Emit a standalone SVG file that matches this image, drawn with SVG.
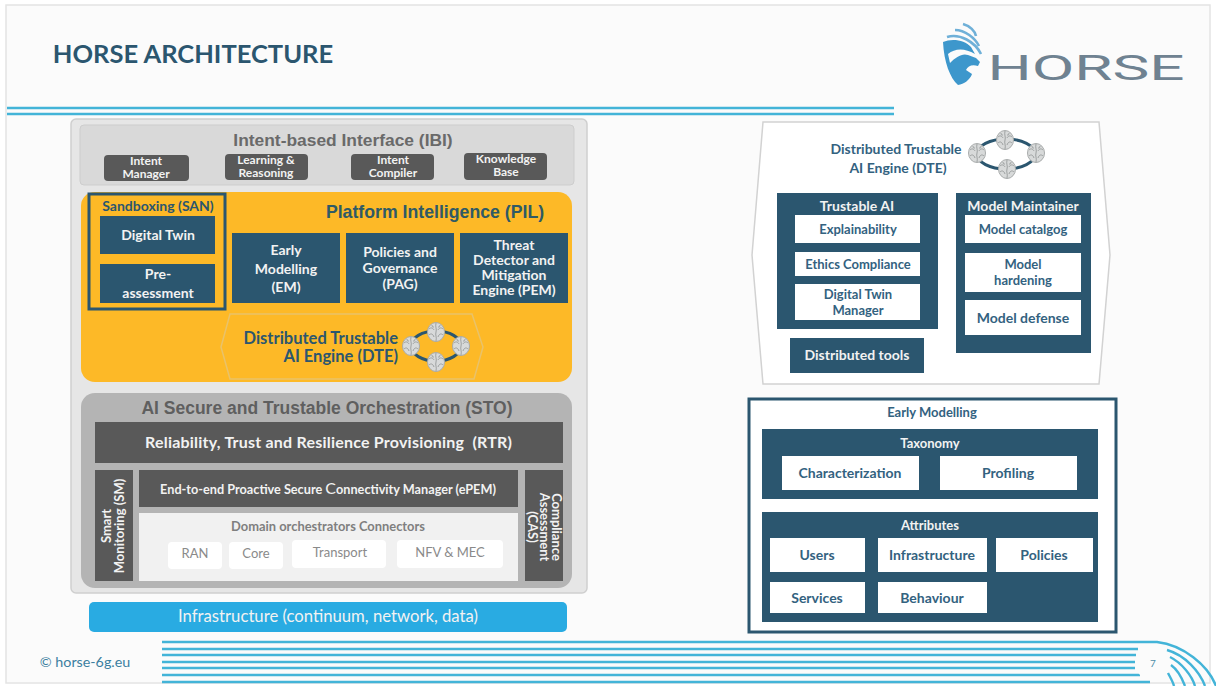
<svg xmlns="http://www.w3.org/2000/svg" width="1216" height="686" viewBox="0 0 1216 686">
<style>
text{font-family:Lato,"Liberation Sans",sans-serif;font-weight:700;text-anchor:middle}
.a{font-family:"Liberation Sans",Arial,sans-serif}
.dk{fill:#2b566f}
.ch{fill:#595959}
.w{fill:#fff}
.tw{fill:#f2f2f2}
.tb{fill:#33627f}
.tg{fill:#6a6a6a}
.t13{font-size:13px}.t14{font-size:14px}.t15{font-size:15px}.t12{font-size:12px}
.n{font-weight:400;fill:#8a8a8a;font-size:13px}
.st{fill:none;stroke:#43b4d8;stroke-width:2.4}
.ring{fill:none;stroke:#2b566f;stroke-width:3}
.br{fill:#d8dada;stroke:#a8abab;stroke-width:1}
.brl{fill:none;stroke:#8e9292;stroke-width:.8}
.lg{fill:none;stroke:#6fb0d8;stroke-width:2.6}
</style>
<defs>
<g id="brain"><ellipse class="br" rx="8.5" ry="9.5"/><path class="brl" d="M0-9C-1-5 1-3 0 0S1 5 0 9M-7-3C-5-5-3-4-2-2M-7 3C-5 1-3 2-2 5M7-3C5-5 3-4 2-2M7 3C5 1 3 2 2 5M-4-7C-4-5-3-5-2-5M4-7C4-5 3-5 2-5"/></g>
</defs>
<rect width="1216" height="686" fill="#fff"/>
<rect x="6" y="5" width="1204" height="678" fill="#fbfbfb" stroke="#e4e4e4" stroke-width="1.5"/>
<g id="frame">
<text x="193" y="63" font-size="25.5" fill="#2b566f">HORSE ARCHITECTURE</text>
<path class="st" d="M7 108H894M7 114H894"/>
<g id="logo">
<path class="lg" d="M963 24C970 26 975 31 976 36M955 30C965 30 975 38 979 46M947 37C960 33 975 42 981 54"/>
<path d="M943 42C952 38 965 40 971 47L975 54C965 48 955 48 948 54L950 63C956 57 962 53 968 55L976 58 980 62 978 66C972 64 968 66 966 70L972 74C970 80 964 84 958 85 950 78 944 62 943 42Z" fill="#3d97cc"/>
<text x="1086" y="80" font-size="35" style="font-weight:400;font-family:Roboto,sans-serif" fill="#6f8291" textLength="197" lengthAdjust="spacingAndGlyphs">HORSE</text>
</g>
<text x="85" y="667" font-size="14.3" style="font-weight:400" fill="#3c7fa0">© horse-6g.eu</text>
<g id="footer-lines">
<path class="st" d="M162 642H1157C1183 645 1208 665 1216 686"/>
<path class="st" d="M162 649H1138M1167 650C1185 655 1200 672 1205 686"/>
<path class="st" d="M162 655H1136M1170 657C1182 663 1192 676 1195 686"/>
<path class="st" d="M162 662H1135M1171 665C1178 670 1182 678 1185 686"/>
<path class="st" d="M162 668H1135M1168 673C1170 677 1173 682 1174 686"/>
<path class="st" d="M162 675H1140"/>
<path class="st" d="M162 682H1150"/>
</g>
<circle cx="1152" cy="663" r="17" fill="#fbfbfb"/>
<text x="1153" y="667" font-size="10" style="font-weight:400" fill="#4d8da8">7</text>
</g>
<g id="arch-panel"><rect x="71" y="119" width="516" height="474" rx="5" fill="#e6e6e6" stroke="#cfcfcf" stroke-width="1.5"/></g>
<g id="ibi">
<rect x="80" y="125" width="494" height="60" rx="4" fill="#d9d9d9" stroke="#cdcdcd"/>
<text class="a tg" x="343" y="146" font-size="17.4">Intent-based Interface (IBI)</text>
</g>
<g id="ibi-manager"><rect class="ch" x="104" y="155" width="85" height="26" rx="4"/><text class="tw t12" x="146" y="165">Intent</text><text class="tw t12" x="146" y="178">Manager</text></g>
<g id="ibi-learning"><rect class="ch" x="225" y="154" width="83" height="26" rx="4"/><text class="tw t12" x="266" y="164">Learning &amp;</text><text class="tw t12" x="266" y="177">Reasoning</text></g>
<g id="ibi-compiler"><rect class="ch" x="351" y="154" width="83" height="26" rx="4"/><text class="tw t12" x="393" y="164">Intent</text><text class="tw t12" x="393" y="177">Compiler</text></g>
<g id="ibi-knowledge"><rect class="ch" x="464" y="153" width="83" height="27" rx="4"/><text class="tw t12" x="506" y="163">Knowledge</text><text class="tw t12" x="506" y="176">Base</text></g>
<g id="pil">
<rect x="81" y="192" width="491" height="190" rx="14" fill="#fdb927"/>
<text class="a" x="435" y="218" font-size="17.7" fill="#2f5a66">Platform Intelligence (PIL)</text>
</g>
<g id="san">
<rect x="89" y="194" width="136" height="115" fill="none" stroke="#2b566f" stroke-width="3"/>
<text class="t14" x="158" y="211" fill="#2b566f">Sandboxing (SAN)</text>
<rect class="dk" x="100" y="216" width="115" height="38"/><text class="tw t14" x="158" y="240">Digital Twin</text>
<rect class="dk" x="100" y="264" width="115" height="39"/><text class="tw t14" x="158" y="279">Pre-</text><text class="tw t14" x="158" y="298">assessment</text>
</g>
<g id="em"><rect class="dk" x="232" y="233" width="108" height="70"/><text class="tw t14" x="286" y="255">Early</text><text class="tw t14" x="286" y="274">Modelling</text><text class="tw t14" x="286" y="292">(EM)</text></g>
<g id="pag"><rect class="dk" x="346" y="233" width="108" height="70"/><text class="tw t14" x="400" y="257">Policies and</text><text class="tw t14" x="400" y="273">Governance</text><text class="tw t14" x="400" y="289">(PAG)</text></g>
<g id="pem"><rect class="dk" x="460" y="233" width="108" height="70"/><text class="tw t14" x="514" y="250">Threat</text><text class="tw t14" x="514" y="265">Detector and</text><text class="tw t14" x="514" y="280">Mitigation</text><text class="tw t14" x="514" y="295">Engine (PEM)</text></g>
<g id="dte-small">
<path d="M230 314H472L483 347 474 379H230L221 347Z" fill="#fdb927" stroke="#e9c26a" stroke-width="1.5"/>
<text x="398" y="344" font-size="16.5" fill="#2b566f" style="text-anchor:end">Distributed Trustable</text>
<text x="398" y="362" font-size="16.5" fill="#2b566f" style="text-anchor:end">AI Engine (DTE)</text>
</g>
<g id="sto">
<rect x="81" y="393" width="491" height="195" rx="14" fill="#b4b4b4"/>
<text class="a" x="327" y="414" font-size="17.5" fill="#5f5f5f">AI Secure and Trustable Orchestration (STO)</text>
</g>
<g id="rtr"><rect class="ch" x="95" y="422" width="468" height="41"/><text class="tw" x="328.500" y="448" font-size="16" textLength="367" style="white-space:pre">Reliability, Trust and Resilience Provisioning  (RTR)</text></g>
<g id="sm"><rect class="ch" x="95" y="470" width="38" height="111"/><text class="tw t13" transform="translate(111 526) rotate(-90)">Smart</text><text class="tw t13" transform="translate(124 526) rotate(-90)">Monitoring (SM)</text></g>
<g id="cas"><rect class="ch" x="525" y="470" width="38" height="111"/><text class="tw t13" transform="translate(552 527) rotate(90)">Compliance</text><text class="tw t13" transform="translate(540 527) rotate(90)">Assessment</text><text class="tw t13" transform="translate(528 527) rotate(90)">(CAS)</text></g>
<g id="epem"><rect class="ch" x="139" y="470" width="379" height="37"/><text class="tw" font-size="12.700" x="328" y="494">End-to-end Proactive Secure <tspan font-size="16" style="font-weight:400">C</tspan>onnectivity Manager (ePEM)</text></g>
<g id="domain"><rect x="139" y="513" width="379" height="68" fill="#f1f1f1"/><text x="328" y="531" font-size="12.900" fill="#7f7f7f">Domain orchestrators Connectors</text></g>
<g id="ran"><rect class="w" x="168" y="542" width="54" height="27" rx="4"/><text class="n" x="195" y="558">RAN</text></g>
<g id="core"><rect class="w" x="229" y="542" width="54" height="27" rx="4"/><text class="n" x="256" y="558">Core</text></g>
<g id="transport"><rect class="w" x="292" y="540" width="94" height="28" rx="4"/><text class="n" x="340" y="557">Transport</text></g>
<g id="nfv"><rect class="w" x="397" y="540" width="106" height="28" rx="4"/><text class="n" x="450" y="557">NFV &amp; MEC</text></g>
<g id="infra"><rect x="89" y="602" width="478" height="30" rx="5" fill="#29abe2"/><text x="328" y="622" font-size="16.700" style="font-weight:400" fill="#f2f2f2">Infrastructure (continuum, network, data)</text></g>
<g id="dte-detail">
<path d="M763 122H1099L1110 255 1099 384H763L752 255Z" fill="#fff" stroke="#d2d2d2" stroke-width="1.5"/>
<text class="t14 tb" x="896" y="154">Distributed Trustable</text>
<text class="t14 tb" x="898" y="173">AI Engine (DTE)</text>
</g>
<g id="trustable-ai">
<rect class="dk" x="777" y="193" width="161" height="136"/><text class="tw t14" x="857" y="211">Trustable AI</text>
<rect class="w" x="795" y="215" width="125" height="28"/><text class="tb t13" x="858" y="234">Explainability</text>
<rect class="w" x="795" y="252" width="125" height="24"/><text class="tb t13" x="858" y="269">Ethics Compliance</text>
<rect class="w" x="795" y="284" width="125" height="36"/><text class="tb t13" x="858" y="299">Digital Twin</text><text class="tb t13" x="858" y="315">Manager</text>
</g>
<g id="model-maintainer">
<rect class="dk" x="956" y="193" width="135" height="160"/><text class="tw t14" x="1023" y="211">Model Maintainer</text>
<rect class="w" x="965" y="215" width="116" height="28"/><text class="tb t13" x="1023" y="234">Model catalgog</text>
<rect class="w" x="965" y="253" width="116" height="39"/><text class="tb t13" x="1023" y="269">Model</text><text class="tb t13" x="1023" y="285">hardening</text>
<rect class="w" x="965" y="300" width="116" height="35"/><text class="tb t14" x="1023" y="323">Model defense</text>
</g>
<g id="dist-tools"><rect class="dk" x="790" y="338" width="134" height="35"/><text class="tw t14" x="857" y="360">Distributed tools</text></g>
<g id="early-modelling">
<rect x="749" y="399" width="367" height="233" fill="#fff" stroke="#2b566f" stroke-width="3"/>
<text class="tb t13" x="932" y="417">Early Modelling</text>
</g>
<g id="taxonomy">
<rect class="dk" x="762" y="429" width="336" height="70"/><text class="tw t13" x="930" y="448">Taxonomy</text>
<rect class="w" x="782" y="456" width="137" height="34"/><text class="tb t14" x="850" y="478">Characterization</text>
<rect class="w" x="940" y="456" width="137" height="34"/><text class="tb t14" x="1008" y="478">Profiling</text>
</g>
<g id="attributes">
<rect class="dk" x="762" y="512" width="336" height="110"/><text class="tw t13" x="930" y="530">Attributes</text>
<rect class="w" x="770" y="538" width="95" height="34"/><text class="tb t14" x="817" y="560">Users</text>
<rect class="w" x="878" y="538" width="109" height="34"/><text class="tb t14" x="932" y="560">Infrastructure</text>
<rect class="w" x="996" y="538" width="97" height="34"/><text class="tb t14" x="1044" y="560">Policies</text>
<rect class="w" x="770" y="582" width="95" height="31"/><text class="tb t14" x="817" y="603">Services</text>
<rect class="w" x="878" y="582" width="109" height="31"/><text class="tb t14" x="932" y="603">Behaviour</text>
</g>
<g id="connectors">
<ellipse class="ring" cx="436" cy="346" rx="25" ry="15"/>
<ellipse class="ring" cx="1006" cy="154" rx="29" ry="15"/>
</g>
<g id="brains">
<use href="#brain" x="411" y="346"/><use href="#brain" x="436" y="332"/><use href="#brain" x="461" y="346"/><use href="#brain" x="436" y="362"/>
<use href="#brain" x="977" y="153"/><use href="#brain" x="1005" y="140"/><use href="#brain" x="1036" y="153"/><use href="#brain" x="1007" y="169"/>
</g>
</svg>
